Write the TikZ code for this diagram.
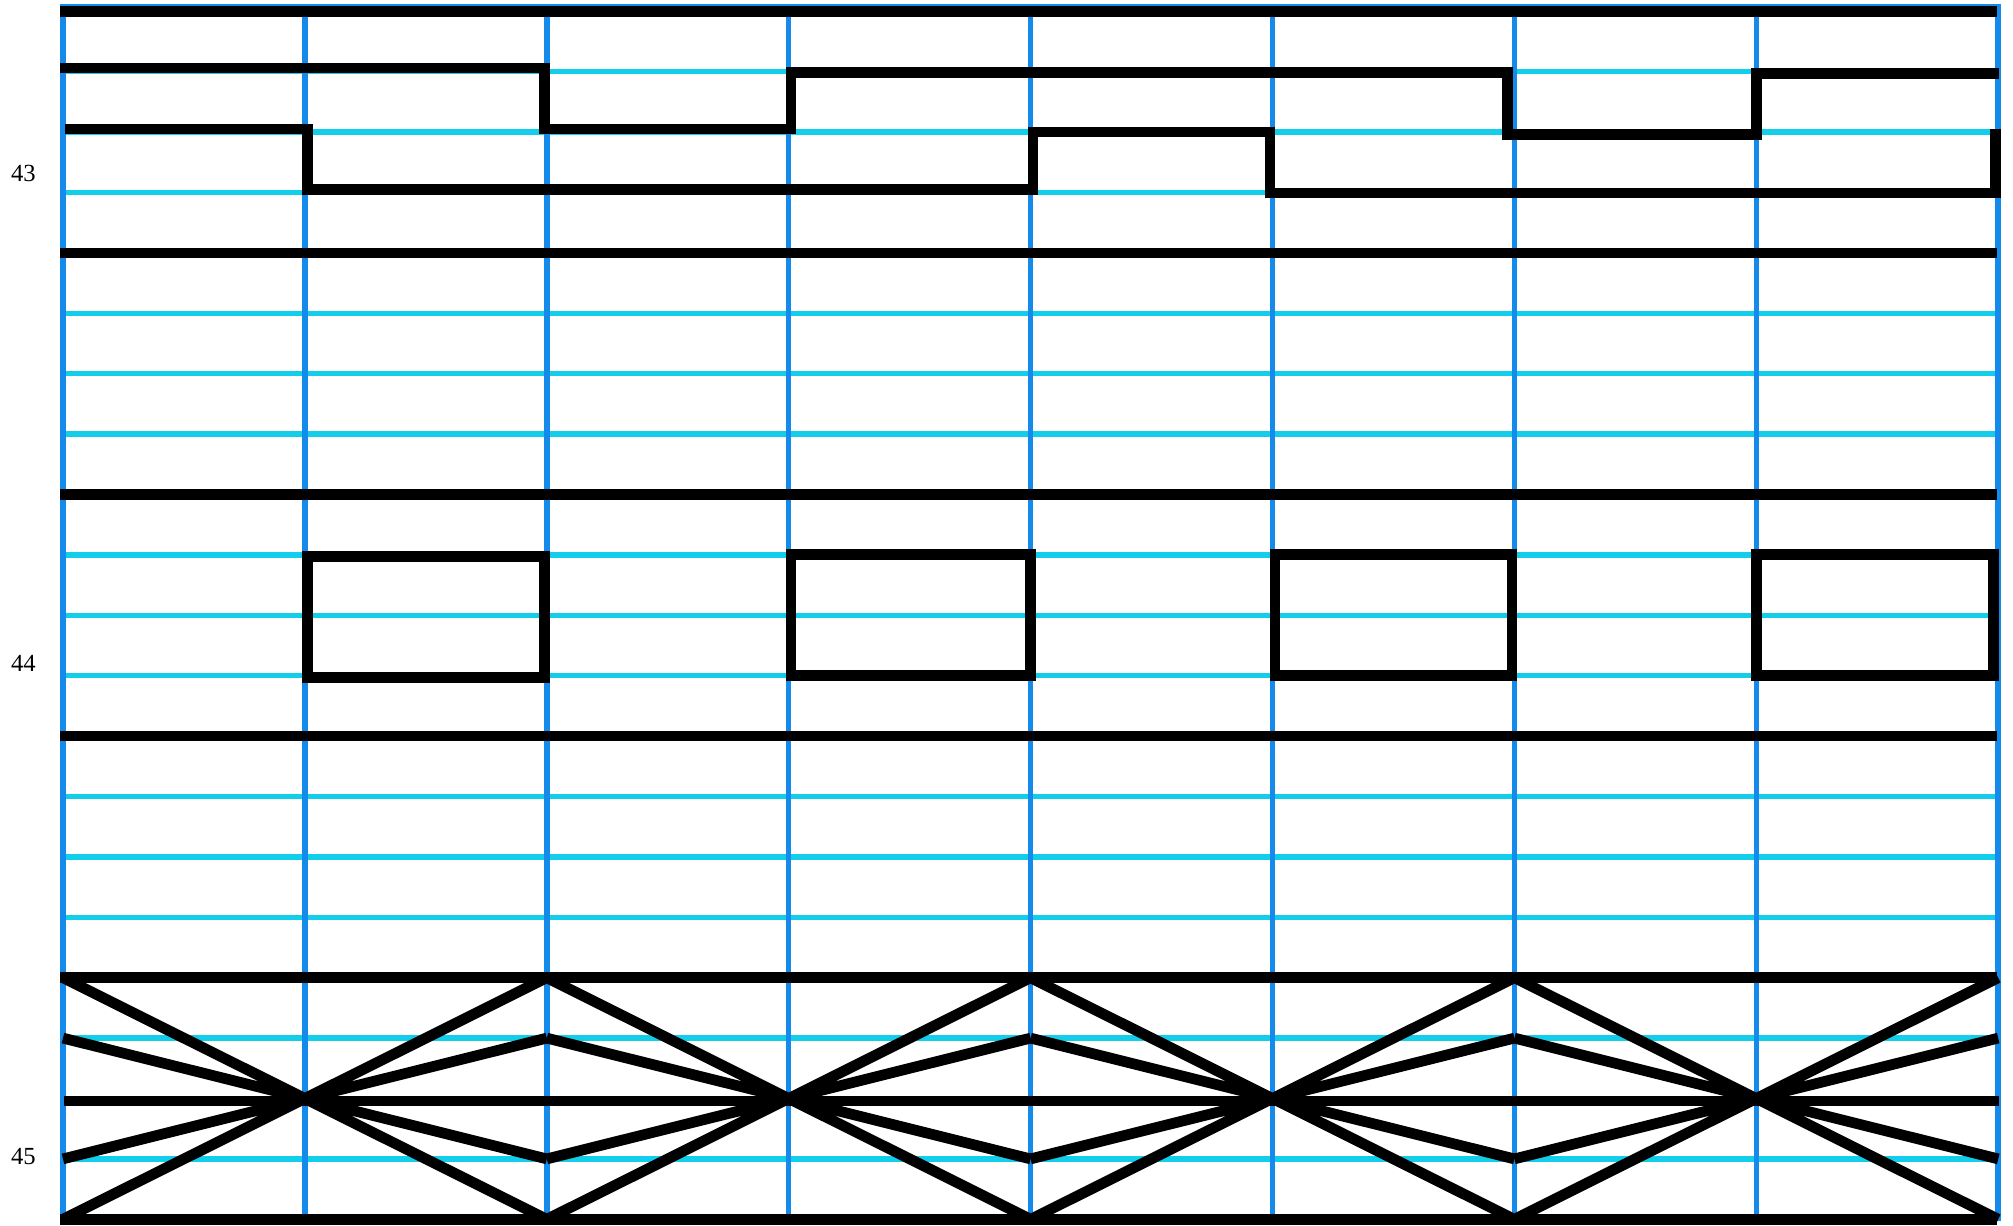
\documentclass[tikz,border=0pt]{standalone}
\usepackage{fontspec}
\setmainfont{Liberation Serif}
\usepackage{tikz}
\usepackage{xcolor}
\definecolor{colblue}{RGB}{20,138,234}
\definecolor{rowcyan}{RGB}{18,206,235}
\tikzset{
  rowline/.style ={draw=rowcyan, line width=2.65pt},           % thin rows
  colline/.style ={draw=colblue, line width=2.75pt},           % columns
  bandline/.style={draw=black, line width=5.35pt, line cap=butt},
  trace/.style   ={draw=black, line width=5.35pt, line cap=rect},
  rowlabel/.style={font=\fontsize{12.3}{14}\selectfont, inner sep=0pt},
}

\begin{document}
\begin{tikzpicture}[x=120.95pt, y=-30.2pt]
  \useasboundingbox (-0.2604,-0.1871) rectangle (8.0612,20.1109);
  % grid
  \foreach \r in {1,2,3,5,6,7,9,10,11,13,14,15,17,19}
    \draw[rowline] (0,\r) -- (8,\r);
  \draw[colblue, line width=2pt] (-0.012,-0.09) -- (8.012,-0.09);
  \foreach \c in {0,...,8}
    \draw[colline] (\c,-0.12) -- (\c,20.03);
  % bands
  \foreach \r in {0,4,8,12,16,20}
    \draw[bandline] (-0.012,\r) -- (7.995,\r);
  \draw[bandline] (0.004,18.04) -- (8.003,18.04);
  % top band
  \draw[trace] (0.01,0.94) -| (1.99,1.95) -| (3.01,1.01) -| (5.97,2.04)
               -| (7,1.03) -- (7.98,1.03);
  \draw[trace] (0.03,1.95) -| (1.01,2.95) -| (4.01,2.0) -| (4.99,3.01)
               -| (7.99,2.04);
  % middle band
  \draw[trace] (1.01,9.03) rectangle (1.99,11.03);
  \draw[trace] (3.01,8.99) rectangle (4.0,11.0);
  \draw[trace] (5.01,8.99) rectangle (5.99,11.0);
  \draw[trace] (7,8.99) rectangle (7.98,11.0);
  % bottom band
  \foreach \c in {1,3,5,7}
    \draw[bandline] ({\c-1},16) -- ({\c+1},20) ({\c-1},20) -- ({\c+1},16)
                    ({\c-1},17) -- ({\c+1},19) ({\c-1},19) -- ({\c+1},17);
  % labels
  \node[rowlabel] (lab43) at (-0.164,2.68)  {43};
  \node[rowlabel] (lab44) at (-0.164,10.79) {44};
  \node[rowlabel] (lab45) at (-0.164,18.96) {45};
\end{tikzpicture}
\end{document}
